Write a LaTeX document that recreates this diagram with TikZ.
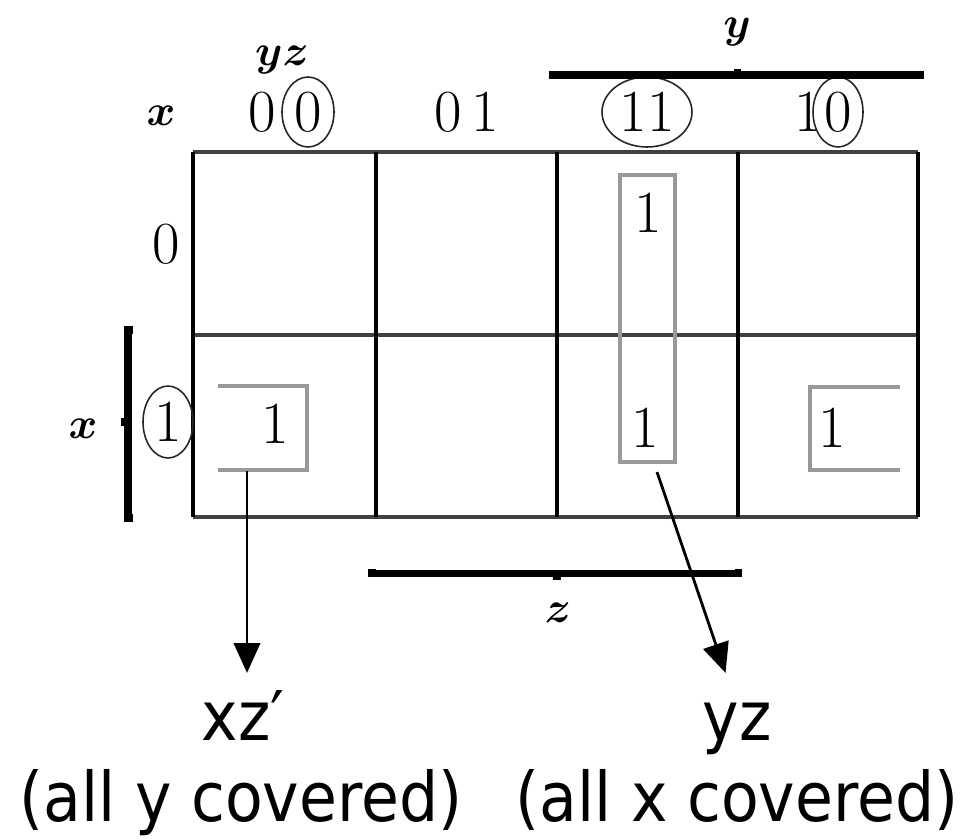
\documentclass[tikz,border=0pt]{standalone}
\usepackage{fontspec}
\usepackage{amsmath}
\usetikzlibrary{arrows.meta,shapes.geometric}
\newfontfamily\notefont[FakeStretch=0.9]{DejaVu Sans}

\begin{document}
\begin{tikzpicture}[x=0.02cm,y=-0.02cm,
  digit/.style={font=\fontsize{34}{40}\selectfont,inner sep=0pt},
  var/.style={font=\fontsize{34}{40}\selectfont\boldmath,inner sep=0pt},
  ring/.style={draw=black!85,ellipse,line width=0.9pt,inner sep=0pt,minimum height=1.4cm},
  cover/.style={draw=black!40,line width=2pt},
  bar/.style={line width=4pt},
  term/.style={font=\fontsize{39}{47}\notefont,inner sep=0pt,text height=38pt,text depth=0pt,anchor=base},
  note/.style={font=\fontsize{39}{47}\notefont,inner sep=0pt,anchor=base},
  pointer/.style={-{Triangle[length=17pt,width=15pt]},line width=1.6pt}]
\useasboundingbox (0,0) rectangle (969,839);

\foreach \gy in {152,335,517} \draw[line width=2pt,black!75] (193,\gy) -- (918,\gy);
\foreach \gx in {193,376,557,738,918} \draw[line width=2pt] (\gx,152) -- (\gx,517);

\node[var,anchor=base] (yzvar) at (282,65) {$yz$};
\node[var] (xvar) at (161,116) {$x$};
\node[digit] (h00a) at (262,112) {0};
\node[digit,ring,minimum width=1.04cm] (h00b) at (308,112) {0};
\node[digit] (h01) at (467,112) {0\,1};
\node[digit,ring,minimum width=1.8cm] (h11) at (647,112) {11};
\node[digit] (h10a) at (808,112) {1};
\node[digit,ring,minimum width=1cm] (h10b) at (838,112) {0};

\node[digit] (r0) at (166,244) {0};
\node[digit,ring,minimum width=1cm,minimum height=1.44cm] (r1) at (168,422) {1};
\node[var] (xrow) at (83,429) {$x$};

\draw[bar] (553,79) -- (553,75) -- (920,75) -- (920,79);
\draw[bar] (737,75) -- (737,69);
\node[var,anchor=base] (yvar) at (737,37) {$y$};
\draw[bar] (372,569) -- (372,573) -- (738,573) -- (738,569);
\draw[bar] (557,573) -- (557,580);
\node[var] (zvar) at (558,613) {$z$};
\draw[bar] (133,330) -- (128,330) -- (128,518) -- (133,518);
\draw[bar] (128,422) -- (121,422);

\draw[cover] (218,386) -- (307,386) -- (307,470) -- (218,470);
\node[cover,inner sep=0pt,minimum width=1.1cm,minimum height=5.74cm] (yzloop) at (647.5,318.5) {};
\draw[cover] (900,387) -- (810,387) -- (810,470) -- (900,470);

\node[digit] (m100) at (275,424) {1};
\node[digit] (m011) at (648,213) {1};
\node[digit] (m111) at (645,428) {1};
\node[digit] (m110) at (832,428) {1};

\node[term] (xzterm) at (243,740) {xz′};
\node[term] (yzterm) at (737,740) {yz};
\node[note] (ynote) at (241,821) {(all y covered)};
\node[note] (xnote) at (737,821) {(all x covered)};

\coordinate (xzfoot) at (247,471);
\coordinate (yzfoot) at (657,472);
\draw[pointer] (xzfoot) -- (xzfoot |- xzterm.north);
\draw[pointer] (yzfoot) -- (yzterm);
\end{tikzpicture}
\end{document}
